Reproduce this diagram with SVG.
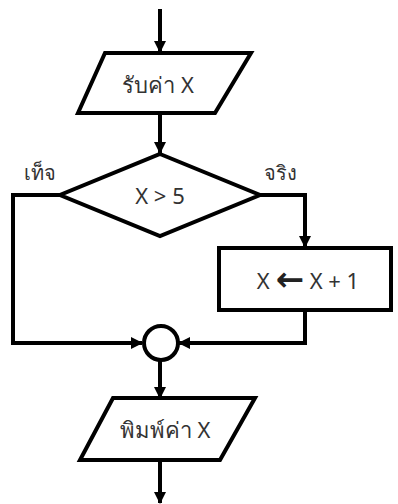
<svg xmlns="http://www.w3.org/2000/svg" width="398" height="504" viewBox="0 0 398 504">
<defs>
<marker id="ah" markerWidth="12" markerHeight="12" refX="11" refY="6" orient="auto" markerUnits="userSpaceOnUse">
<path d="M0,0 L12,6 L0,12 Z" fill="#000"/>
</marker>
<style>
.shape{fill:#fff;stroke:#000;stroke-width:4;stroke-linejoin:miter}
.line{fill:none;stroke:#000;stroke-width:4}
.t{font-family:"Noto Sans","DejaVu Sans",sans-serif;font-size:22px;fill:#333;text-anchor:middle;dominant-baseline:central}
.lbl{font-family:"Noto Sans","DejaVu Sans",sans-serif;font-size:20px;fill:#333;text-anchor:middle;dominant-baseline:central}
</style>
</defs>
<rect width="398" height="504" fill="#fff"/>
<g id="connectors">
<path class="line" d="M160,9 V52" marker-end="url(#ah)"/>
<path class="line" d="M160,113 V153" marker-end="url(#ah)"/>
<path class="line" d="M60,195 H13 V343 H142" marker-end="url(#ah)"/>
<path class="line" d="M260,195 H305 V247" marker-end="url(#ah)"/>
<path class="line" d="M305,310 V343 H179" marker-end="url(#ah)"/>
<path class="line" d="M160,361 V398" marker-end="url(#ah)"/>
<path class="line" d="M160,460 V503" marker-end="url(#ah)"/>
</g>
<g id="input">
<polygon class="shape" points="105,53 251,53 215,113 78,113"/>
<text class="t" x="158" y="84">รับค่า X</text>
</g>
<g id="decision">
<polygon class="shape" points="160,154 260,195 160,236 60,195"/>
<text class="t" x="160" y="195">X &gt; 5</text>
<text class="lbl" x="40" y="172">เท็จ</text>
<text class="lbl" x="280" y="172">จริง</text>
</g>
<g id="process">
<rect class="shape" x="219" y="248" width="172" height="62"/>
<text class="t" x="308" y="280">X <tspan font-size="34" font-weight="bold" fill="#222" dy="-2">←</tspan><tspan dy="2"> X + 1</tspan></text>
</g>
<g id="connector-circle">
<circle class="shape" cx="161" cy="343" r="17"/>
</g>
<g id="output">
<polygon class="shape" points="113,398 255,398 220,460 80,460"/>
<text class="t" x="165" y="429">พิมพ์ค่า X</text>
</g>
</svg>
